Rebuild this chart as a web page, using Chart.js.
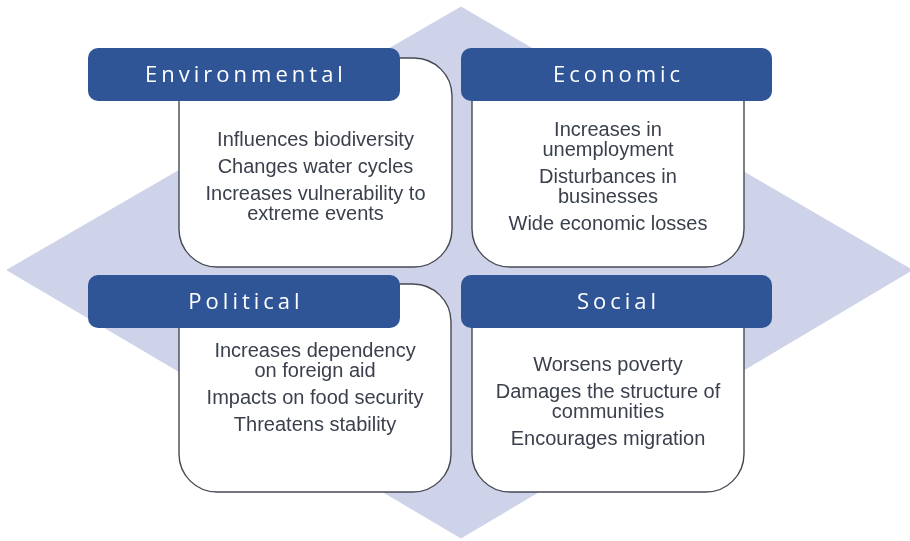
<!DOCTYPE html>
<html>
<head>
<meta charset="utf-8">
<script src="https://cdn.jsdelivr.net/npm/chart.js@4"></script>
<style>
  html, body { margin: 0; padding: 0; background: #ffffff; }
  #wrap { width: 910px; height: 541px; position: relative; }
</style>
</head>
<body>
<div id="wrap"><canvas id="c"></canvas></div>
<script>
// ---- content ----
const categories = ['Environmental', 'Economic', 'Political', 'Social'];
const environmentalItems = ['Influences biodiversity', 'Changes water cycles', 'Increases vulnerability to\nextreme events'];
const economicItems = ['Increases in\nunemployment', 'Disturbances in\nbusinesses', 'Wide economic losses'];
const politicalItems = ['Increases dependency\non foreign aid', 'Impacts on food security', 'Threatens stability'];
const socialItems = ['Worsens poverty', 'Damages the structure of\ncommunities', 'Encourages migration'];
const items = [environmentalItems, economicItems, politicalItems, socialItems];

// background diamond outline (in scale units)
const diamondX = [461, 912, 461, 7, 461];
const diamondY = [7, 270, 538, 270, 7];

// ---- layout (scale units) ----
const panelLayout = [
  { hx0: 88,  hx1: 400, hy0: 48,  hy1: 101, bx0: 179, bx1: 452, by0: 58,  by1: 267, textY: 139 },
  { hx0: 461, hx1: 772, hy0: 48,  hy1: 101, bx0: 472, bx1: 744, by0: 58,  by1: 267, textY: 129 },
  { hx0: 88,  hx1: 400, hy0: 275, hy1: 328, bx0: 179, bx1: 451, by0: 284, by1: 492, textY: 350 },
  { hx0: 461, hx1: 772, hy0: 275, hy1: 328, bx0: 472, bx1: 744, by0: 284, by1: 492, textY: 364 }
];
const style = {
  diamond: '#ced3e9',
  header: '#2f5597',
  boxBorder: '#454a52',
  bodyText: '#3a404c',
  headFont: '22px "Open Sans", "DejaVu Sans", sans-serif',
  headSpacing: 4,
  bodyFont: '20px "Liberation Sans", Arial, sans-serif',
  lineGap: 20,
  itemGap: 27
};

function roundRect(ctx, x0, y0, x1, y1, r) {
  ctx.beginPath();
  ctx.moveTo(x0 + r, y0);
  ctx.lineTo(x1 - r, y0);
  ctx.arcTo(x1, y0, x1, y0 + r, r);
  ctx.lineTo(x1, y1 - r);
  ctx.arcTo(x1, y1, x1 - r, y1, r);
  ctx.lineTo(x0 + r, y1);
  ctx.arcTo(x0, y1, x0, y1 - r, r);
  ctx.lineTo(x0, y0 + r);
  ctx.arcTo(x0, y0, x0 + r, y0, r);
  ctx.closePath();
}

// fills the closed diamond outline using the points the library placed
const diamondPlugin = {
  id: 'diamondFill',
  beforeDatasetsDraw(chart) {
    const meta = chart.getDatasetMeta(0);
    const pts = meta.data;
    if (!pts || !pts.length) return;
    const ctx = chart.ctx;
    ctx.save();
    ctx.beginPath();
    pts.forEach((p, i) => { if (i === 0) ctx.moveTo(p.x, p.y); else ctx.lineTo(p.x, p.y); });
    ctx.closePath();
    ctx.fillStyle = style.diamond;
    ctx.fill();
    ctx.restore();
  }
};

const panelsPlugin = {
  id: 'panels',
  afterDatasetsDraw(chart) {
    const ctx = chart.ctx;
    const xs = chart.scales.x, ys = chart.scales.y;
    const px = v => xs.getPixelForValue(v);
    const py = v => ys.getPixelForValue(v);
    ctx.save();
    categories.forEach((cat, i) => {
      const L = panelLayout[i];
      // white body box
      roundRect(ctx, px(L.bx0), py(L.by0), px(L.bx1), py(L.by1), 38);
      ctx.fillStyle = '#ffffff';
      ctx.fill();
      ctx.lineWidth = 1.4;
      ctx.strokeStyle = style.boxBorder;
      ctx.stroke();
      // header bar
      roundRect(ctx, px(L.hx0), py(L.hy0), px(L.hx1), py(L.hy1), 10);
      ctx.fillStyle = style.header;
      ctx.fill();
      // header text
      ctx.fillStyle = '#ffffff';
      ctx.font = style.headFont;
      ctx.letterSpacing = style.headSpacing + 'px';
      ctx.textAlign = 'center';
      ctx.textBaseline = 'alphabetic';
      ctx.fillText(cat, (px(L.hx0) + px(L.hx1)) / 2 + style.headSpacing / 2, py(L.hy0) + 34);
      ctx.letterSpacing = '0px';
      // body text
      ctx.font = style.bodyFont;
      ctx.fillStyle = style.bodyText;
      const cx = (px(L.bx0) + px(L.bx1)) / 2;
      let y = py(L.textY);
      items[i].forEach((it, k) => {
        if (k > 0) y += style.itemGap;
        it.split('\n').forEach((line, j) => {
          if (j > 0) y += style.lineGap;
          ctx.fillText(line, cx, y + 7);
        });
      });
    });
    ctx.restore();
  }
};

new Chart(document.getElementById('c'), {
  type: 'scatter',
  data: {
    datasets: [{
      data: diamondX.map((x, i) => ({ x: x, y: diamondY[i] })),
      showLine: true,
      fill: false,
      backgroundColor: style.diamond,
      borderWidth: 1,
      borderColor: style.diamond,
      pointRadius: 0,
      tension: 0
    }]
  },
  options: {
    responsive: true,
    maintainAspectRatio: false,
    animation: false,
    layout: { padding: 0 },
    plugins: { legend: { display: false }, tooltip: { enabled: false } },
    scales: {
      x: { type: 'linear', min: 0, max: 910, display: false },
      y: { type: 'linear', min: 0, max: 541, reverse: true, display: false }
    }
  },
  plugins: [diamondPlugin, panelsPlugin]
});
</script>
</body>
</html>
